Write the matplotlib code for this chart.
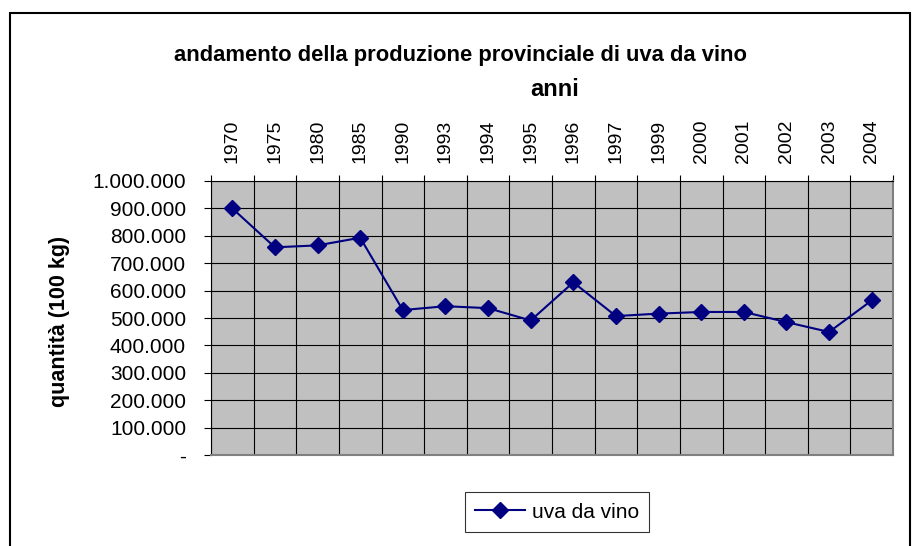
import matplotlib
matplotlib.use('Agg')
import matplotlib.pyplot as plt
from matplotlib.patches import Rectangle
from matplotlib.ticker import FuncFormatter

# dati
anni = ['1970', '1975', '1980', '1985', '1990', '1993', '1994', '1995',
        '1996', '1997', '1999', '2000', '2001', '2002', '2003', '2004']
quantita = [900000, 758000, 765000, 793000, 529000, 543000, 536000, 491000,
            630000, 507000, 516000, 522000, 522000, 485000, 449000, 564000]
y_ticks = list(range(0, 1000001, 100000))

plt.rcParams['font.family'] = ['Liberation Sans', 'DejaVu Sans']


def fmt(v, pos):
    if v == 0:
        return '-'
    return '{:,.0f}'.format(v).replace(',', '.')


fig = plt.figure(figsize=(9.13, 5.46), dpi=100)
W, H = 913, 546

# cornice esterna
fig.patches.append(Rectangle((10 / W, -0.1), 900 / W, (H - 13) / H + 0.1,
                             transform=fig.transFigure, fill=False,
                             edgecolor='black', linewidth=1.5))

ax = fig.add_axes([211 / W, 91 / H, 682 / W, 274 / H])
ax.set_facecolor('#c0c0c0')

x = list(range(len(anni)))
ax.plot(x, quantita, color='#000080', marker='D', markersize=8,
        linewidth=1.5, label='uva da vino', zorder=3)

ax.set_xlim(-0.5, len(anni) - 0.5)
ax.set_ylim(0, 1000000)
ax.set_yticks(y_ticks)
ax.yaxis.set_major_formatter(FuncFormatter(fmt))
ax.tick_params(axis='y', length=5, width=0.8, pad=13, labelsize=15)

ax.xaxis.tick_top()
ax.set_xticks(x)
ax.set_xticklabels(anni, rotation=90, fontsize=14)
ax.set_xticks([i - 0.5 for i in range(len(anni) + 1)], minor=True)
ax.tick_params(axis='x', which='major', length=0, pad=13)
ax.tick_params(axis='x', which='minor', length=4, width=0.8,
               top=True, bottom=False)

ax.grid(axis='x', which='minor', color='black', linewidth=0.8)
ax.grid(axis='y', which='major', color='black', linewidth=0.8)
ax.set_axisbelow(True)

for s in ['top', 'left']:
    ax.spines[s].set_color('black')
    ax.spines[s].set_linewidth(0.8)
for s in ['right', 'bottom']:
    ax.spines[s].set_color('#808080')
    ax.spines[s].set_linewidth(1.5)

fig.text(460 / W, 1 - 55 / H, 'andamento della produzione provinciale di uva da vino',
         ha='center', va='center', fontsize=15.8, fontweight='bold')
fig.text(555 / W, 1 - 90 / H, 'anni', ha='center', va='center',
         fontsize=17, fontweight='bold')
fig.text(60 / W, 1 - 321 / H, 'quantità (100 kg)', ha='center', va='center',
         rotation=90, fontsize=15.5, fontweight='bold')

leg = fig.legend(loc='center', bbox_to_anchor=(557 / W, 1 - 512 / H),
                 fontsize=15, frameon=True, fancybox=False, handlelength=2.4,
                 borderpad=0.5, handletextpad=0.3)
leg.get_frame().set_edgecolor('black')
leg.get_frame().set_linewidth(0.8)

fig.savefig('out.png', dpi=100)
